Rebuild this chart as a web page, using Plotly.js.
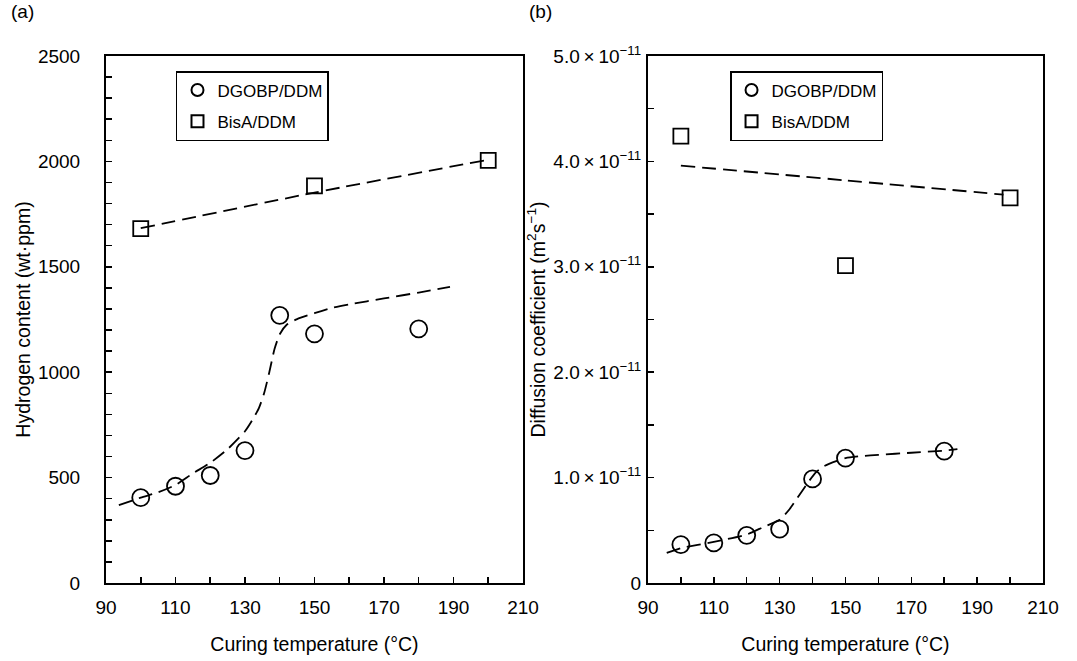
<!DOCTYPE html>
<html>
<head>
<meta charset="utf-8">
<script src="https://cdn.plot.ly/plotly-3.0.1.min.js"></script>
<style>html,body{margin:0;padding:0;background:#fff;}#chart{width:1077px;height:661px;}</style>
</head>
<body>
<div id="chart"></div>
<script>
// ---- data ----
var tempsDGOBP = [100, 110, 120, 130, 140, 150, 180];
var hDGOBP = [405, 459, 510, 628, 1270, 1182, 1206];
var tempsBisA = [100, 150, 200];
var hBisA = [1681, 1884, 2005];

var fitHxDGOBP = [93.7, 100, 105, 110, 115, 120, 125, 130, 132, 134, 135.5, 137, 138.5, 140, 142, 145, 150, 155, 160, 170, 180, 189];
var fitHyDGOBP = [369, 405, 430, 465, 520, 570, 635, 720, 770, 830, 900, 1000, 1110, 1180, 1225, 1252, 1280, 1305, 1322, 1350, 1378, 1405];
var fitHxBisA = [100, 150, 200];
var fitHyBisA = [1683, 1852, 2008];

var dDGOBP = [0.365e-11, 0.380e-11, 0.452e-11, 0.511e-11, 0.987e-11, 1.185e-11, 1.252e-11];
var dBisA = [4.239e-11, 3.011e-11, 3.653e-11];

var fitDxDGOBP = [95.7, 100, 110, 120, 125, 130, 133, 135, 137, 139, 141, 143, 145, 150, 155, 160, 170, 180, 184];
var fitDyDGOBP = [0.285e-11, 0.33e-11, 0.39e-11, 0.46e-11, 0.53e-11, 0.60e-11, 0.70e-11, 0.79e-11, 0.88e-11, 0.97e-11, 1.05e-11, 1.10e-11, 1.13e-11, 1.185e-11, 1.204e-11, 1.216e-11, 1.236e-11, 1.256e-11, 1.27e-11];
var fitDxBisA = [100, 150, 198];
var fitDyBisA = [3.96e-11, 3.82e-11, 3.685e-11];

var yTickValsD = [0, 1e-11, 2e-11, 3e-11, 4e-11, 5e-11];
var yTickTextD = ['0', '1.0\u2009\u00d7\u200910<sup>\u221211</sup>', '2.0\u2009\u00d7\u200910<sup>\u221211</sup>',
  '3.0\u2009\u00d7\u200910<sup>\u221211</sup>', '4.0\u2009\u00d7\u200910<sup>\u221211</sup>', '5.0\u2009\u00d7\u200910<sup>\u221211</sup>'];

var FONT = 'Liberation Sans, Arial, Helvetica, sans-serif';
var circleMarker = {symbol: 'circle-open', size: 17, color: '#000', line: {width: 1.8, color: '#000'}};
var squareMarker = {symbol: 'square-open', size: 15, color: '#000', line: {width: 1.8, color: '#000'}};
var dashLine = {color: '#000', width: 1.8, dash: '14px,7px', shape: 'spline', smoothing: 0.6};

var traces = [
  {x: fitHxDGOBP, y: fitHyDGOBP, mode: 'lines', line: dashLine, showlegend: false, xaxis: 'x', yaxis: 'y', hoverinfo: 'skip'},
  {x: fitHxBisA, y: fitHyBisA, mode: 'lines', line: dashLine, showlegend: false, xaxis: 'x', yaxis: 'y', hoverinfo: 'skip'},
  {x: tempsDGOBP, y: hDGOBP, mode: 'markers', name: 'DGOBP/DDM', marker: circleMarker, xaxis: 'x', yaxis: 'y', legend: 'legend', legendgroup: 'a1'},
  {x: tempsBisA, y: hBisA, mode: 'markers', name: 'BisA/DDM', marker: squareMarker, xaxis: 'x', yaxis: 'y', legend: 'legend', legendgroup: 'a2'},
  {x: fitDxDGOBP, y: fitDyDGOBP, mode: 'lines', line: dashLine, showlegend: false, xaxis: 'x2', yaxis: 'y2', hoverinfo: 'skip'},
  {x: fitDxBisA, y: fitDyBisA, mode: 'lines', line: dashLine, showlegend: false, xaxis: 'x2', yaxis: 'y2', hoverinfo: 'skip'},
  {x: tempsDGOBP, y: dDGOBP, mode: 'markers', name: 'DGOBP/DDM', marker: circleMarker, xaxis: 'x2', yaxis: 'y2', legend: 'legend2', legendgroup: 'b1'},
  {x: tempsBisA, y: dBisA, mode: 'markers', name: 'BisA/DDM', marker: squareMarker, xaxis: 'x2', yaxis: 'y2', legend: 'legend2', legendgroup: 'b2'}
];

function xAxis(domain, anchor) {
  return {
    domain: domain, anchor: anchor, range: [90, 210], tickmode: 'linear', tick0: 90, dtick: 20,
    ticks: 'inside', ticklen: 6, tickwidth: 1.5, tickcolor: '#000',
    minor: {dtick: 10, tick0: 90, ticks: 'inside', ticklen: 6, tickwidth: 1.5, tickcolor: '#000'},
    showline: true, linewidth: 2, linecolor: '#000', mirror: true, showgrid: false, zeroline: false,
    tickfont: {family: FONT, size: 19, color: '#000'}, ticklabelstandoff: 6,
    title: {text: 'Curing temperature (\u00b0C)', font: {family: FONT, size: 19.5, color: '#000'}, standoff: 21}
  };
}

var legendCommon = {
  bgcolor: 'rgba(0,0,0,0)', bordercolor: '#000', borderwidth: 1.5,
  font: {family: FONT, size: 17, color: '#000'}, itemsizing: 'constant',
  traceorder: 'grouped', tracegroupgap: 6, xanchor: 'left', yanchor: 'top', itemwidth: 30
};

var layout = {
  width: 1077, height: 661,
  margin: {l: 106, r: 34, t: 56, b: 78},
  paper_bgcolor: '#fff', plot_bgcolor: '#fff',
  showlegend: true,
  font: {family: FONT, color: '#000'},
  xaxis: xAxis([0, 0.4450], 'y'),
  xaxis2: xAxis([0.5784, 1], 'y2'),
  yaxis: {
    domain: [0, 1], anchor: 'x', range: [0, 2500], tickmode: 'linear', tick0: 0, dtick: 500,
    ticks: 'inside', ticklen: 6, tickwidth: 1.5, tickcolor: '#000',
    minor: {dtick: 100, tick0: 0, ticks: 'inside', ticklen: 6, tickwidth: 1.5, tickcolor: '#000'},
    showline: true, linewidth: 2, linecolor: '#000', mirror: true, showgrid: false, zeroline: false,
    tickfont: {family: FONT, size: 19, color: '#000'}, ticklabelstandoff: 20,
    title: {text: 'Hydrogen content (wt\u00b7ppm)', font: {family: FONT, size: 19.5, color: '#000'}, standoff: 2}
  },
  yaxis2: {
    domain: [0, 1], anchor: 'x2', range: [0, 5e-11], tickmode: 'array', tickvals: yTickValsD, ticktext: yTickTextD,
    ticks: 'inside', ticklen: 6, tickwidth: 1.5, tickcolor: '#000',
    minor: {dtick: 0.5e-11, tick0: 0, ticks: 'inside', ticklen: 6, tickwidth: 1.5, tickcolor: '#000'},
    showline: true, linewidth: 2, linecolor: '#000', mirror: true, showgrid: false, zeroline: false,
    tickfont: {family: FONT, size: 19, color: '#000'}, ticklabelstandoff: 1,
    title: {text: 'Diffusion coefficient (m<sup>2</sup>s<sup>\u22121</sup>)', font: {family: FONT, size: 19.5, color: '#000'}, standoff: 3}
  },
  legend: Object.assign({x: 0.0747, y: 0.9715}, legendCommon),
  legend2: Object.assign({x: 0.666, y: 0.9715}, legendCommon),
  annotations: [
    {text: '(a)', xref: 'paper', yref: 'paper', x: -0.104, y: 1.0835, xanchor: 'left', yanchor: 'middle', showarrow: false, font: {family: FONT, size: 19, color: '#000'}},
    {text: '(b)', xref: 'paper', yref: 'paper', x: 0.449, y: 1.0835, xanchor: 'left', yanchor: 'middle', showarrow: false, font: {family: FONT, size: 19, color: '#000'}}
  ]
};

Plotly.newPlot('chart', traces, layout, {staticPlot: true, displayModeBar: false});
</script>
</body>
</html>
